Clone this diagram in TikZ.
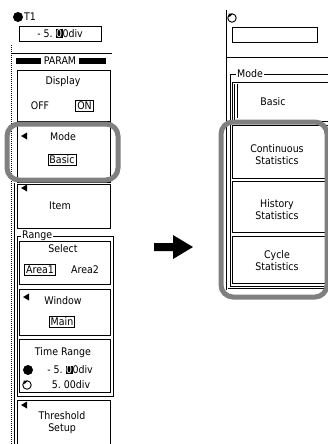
\documentclass[tikz,border=0pt]{standalone}
\usepackage{fontspec}
\setmainfont{DejaVu Sans Condensed}
\usetikzlibrary{calc}
\newcommand\curs[1]{{\setlength\fboxsep{0.4pt}\colorbox{black}{\textcolor{white}{#1}}}}
\begin{document}
\begin{tikzpicture}[x=1pt,y=-1pt,
  ln/.style={draw=black,line width=0.8pt},
  txt/.style={inner sep=0pt,font=\fontsize{10.5}{12}\selectfont,align=center},
  bx/.style={txt,draw=black,line width=0.8pt,inner xsep=1.5pt,inner ysep=1.5pt},
  lab/.style={txt,fill=white,inner xsep=1pt},
  hl/.style={draw={rgb,255:red,128;green,128;blue,128},line width=5pt,rounded corners=12pt},
  blackdot/.style={circle,fill=black,minimum size=10pt,inner sep=0pt},
  rotdot/.style={circle,draw=black,line width=0.9pt,minimum size=8.5pt,inner sep=0pt}]
\useasboundingbox (0,0) rectangle (328,444);
% ---------------- left panel ----------------
\node[blackdot] (dotT) at (18,17) {};
\node[txt,anchor=west] (t1) at (24,17) {T1};
\draw[ln] (19,26) rectangle (101,41);
\node[txt] (val) at (60,33.5) {-~5.~\curs{0}0div};
\draw[line width=1pt,densely dotted] (11,45) -- (11,444);
\draw[ln] (14.5,183) -- (14.5,444);
\draw[ln] (11,53) -- (112,53);
\fill (16,58) rectangle (41,64);
\fill (79,58) rectangle (106,64);
\node[txt] (param) at (60,61) {PARAM};
% Display
\draw[ln] (17,70) rectangle (110,121);
\node[txt] (disp) at (63,82) {Display};
\node[txt] (off) at (40,106) {OFF};
\node[bx] (on) at (84.5,106) {ON};
% Mode
\draw[ln] (17,122) rectangle (110,182);
\fill (21,136) -- (27,132.5) -- (27,139.5) -- cycle;
\node[txt] (mode) at (63,137) {Mode};
\node[bx] (basicL) at (62,160) {Basic};
\draw[hl] (7,124) rectangle (118,180);
% Item
\draw[ln] (17,184) rectangle (110,228);
\fill (21,188) -- (27,184.5) -- (27,191.5) -- cycle;
\node[txt] (item) at (60,206) {Item};
% Range frame
\draw[ln] (17,236) rectangle (113,396);
\node[lab,anchor=west] (range) at (21,236) {Range};
\draw[ln] (19,241) rectangle (110,284);
\node[txt] (select) at (63,249) {Select};
\node[bx] (area1) at (40,270) {Area1};
\node[txt] (area2) at (85,270) {Area2};
\draw[ln] (19,289) rectangle (110,335);
\fill (23,297) -- (29,293.5) -- (29,300.5) -- cycle;
\node[txt] (window) at (63,301) {Window};
\node[bx] (main) at (62,322) {Main};
\draw[ln] (19,339) rectangle (110,392);
\node[txt] (trange) at (63,353) {Time Range};
\node[blackdot] (dotA) at (28,370) {};
\node[txt] (va) at (70,370) {-~5.~\curs{0}0div};
\node[rotdot] (dotB) at (27,385) {};
\fill (23.5,380.5) -- (27.5,381) -- (24.5,384) -- cycle;
\node[txt] (vb) at (71,385) {5.~00div};
% Threshold
\draw[ln] (17,400) rectangle (110,450);
\fill (21,405) -- (27,401.5) -- (27,408.5) -- cycle;
\node[txt] (thr) at (62,423) {Threshold\\Setup};
% ---------------- arrow ----------------
\fill (154,243) -- (173,243) -- (173,235) -- (193,247) -- (173,259) -- (173,251) -- (154,251) -- cycle;
% ---------------- right panel ----------------
\draw[ln] (226,10) -- (226,290);
\node[rotdot] (rot) at (232,18) {};
\fill (228.5,13.5) -- (232.5,14) -- (229.5,17) -- cycle;
\draw[ln] (232,27) rectangle (317,42);
\draw[ln] (226,57) -- (330,57);
\draw[ln] (230,74) rectangle (334,286);
\node[lab,anchor=west] (modeR) at (236,74) {Mode};
\draw[ln] (232,82) rectangle (334,121);
\draw[ln] (234,84) -- (234,121);
\draw[line width=1.6pt] (237.5,84) -- (237.5,118);
\node[txt] (basicR) at (273,102) {Basic};
\draw[ln] (232,125) rectangle (334,178);
\node[txt] (cont) at (277,155) {Continuous\\Statistics};
\draw[ln] (232,181) rectangle (334,232);
\node[txt] (hist) at (277,210) {History\\Statistics};
\draw[ln] (232,236) rectangle (334,283);
\node[txt] (cyc) at (277,261) {Cycle\\Statistics};
\draw[ln] (228,288) -- (330,288);
\draw[hl] (221,122) rectangle (327,297);
\end{tikzpicture}
\end{document}
